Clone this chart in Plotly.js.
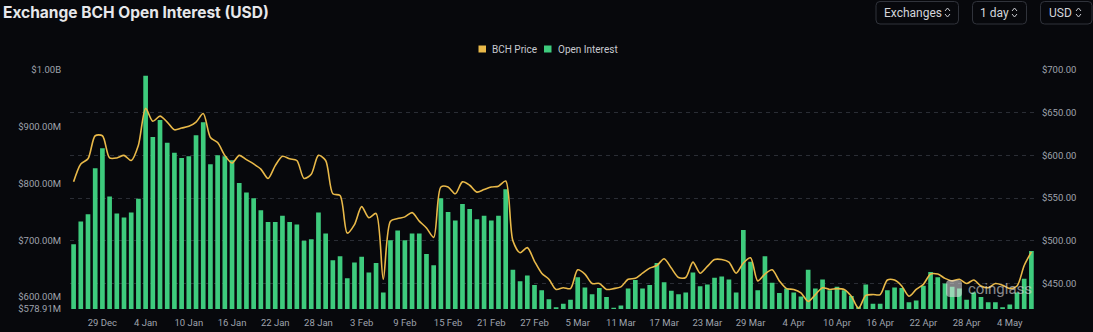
<!DOCTYPE html>
<html>
<head>
<meta charset="utf-8">
<script src="https://cdn.plot.ly/plotly-3.0.1.min.js"></script>
<style>
html,body{margin:0;padding:0;background:#07080c;}
#chart{width:1093px;height:332px;}
</style>
</head>
<body>
<div id="chart"></div>
<script>
// ---- data ----
const dates = [
"2024-12-25","2024-12-26","2024-12-27","2024-12-28","2024-12-29","2024-12-30","2024-12-31",
"2025-01-01","2025-01-02","2025-01-03","2025-01-04","2025-01-05","2025-01-06","2025-01-07","2025-01-08","2025-01-09","2025-01-10",
"2025-01-11","2025-01-12","2025-01-13","2025-01-14","2025-01-15","2025-01-16","2025-01-17","2025-01-18","2025-01-19","2025-01-20",
"2025-01-21","2025-01-22","2025-01-23","2025-01-24","2025-01-25","2025-01-26","2025-01-27","2025-01-28","2025-01-29","2025-01-30","2025-01-31",
"2025-02-01","2025-02-02","2025-02-03","2025-02-04","2025-02-05","2025-02-06","2025-02-07","2025-02-08","2025-02-09","2025-02-10",
"2025-02-11","2025-02-12","2025-02-13","2025-02-14","2025-02-15","2025-02-16","2025-02-17","2025-02-18","2025-02-19","2025-02-20",
"2025-02-21","2025-02-22","2025-02-23","2025-02-24","2025-02-25","2025-02-26","2025-02-27","2025-02-28",
"2025-03-01","2025-03-02","2025-03-03","2025-03-04","2025-03-05","2025-03-06","2025-03-07","2025-03-08","2025-03-09","2025-03-10",
"2025-03-11","2025-03-12","2025-03-13","2025-03-14","2025-03-15","2025-03-16","2025-03-17","2025-03-18","2025-03-19","2025-03-20",
"2025-03-21","2025-03-22","2025-03-23","2025-03-24","2025-03-25","2025-03-26","2025-03-27","2025-03-28","2025-03-29","2025-03-30","2025-03-31",
"2025-04-01","2025-04-02","2025-04-03","2025-04-04","2025-04-05","2025-04-06","2025-04-07","2025-04-08","2025-04-09","2025-04-10",
"2025-04-11","2025-04-12","2025-04-13","2025-04-14","2025-04-15","2025-04-16","2025-04-17","2025-04-18","2025-04-19","2025-04-20",
"2025-04-21","2025-04-22","2025-04-23","2025-04-24","2025-04-25","2025-04-26","2025-04-27","2025-04-28","2025-04-29","2025-04-30",
"2025-05-01","2025-05-02","2025-05-03","2025-05-04","2025-05-05","2025-05-06","2025-05-07"
];

// Open interest, millions USD
const openInterest = [
693,733,746,827,862,777,747,740,749,773,
990,882,912,872,854,845,848,885,908,834,
850,848,841,801,784,774,753,732,732,743,
732,728,699,702,749,712,665,672,633,661,
671,643,660,608,700,717,700,712,712,676,
656,774,750,735,764,755,737,743,735,743,
790,648,628,638,621,612,596,582,588,595,
635,617,605,616,600,581,585,615,630,615,
621,660,626,611,605,608,643,619,622,634,
636,631,608,718,662,612,672,625,607,615,
608,601,648,615,631,612,618,612,602,583,
622,588,588,612,617,616,591,594,620,644,
635,624,618,615,595,608,600,591,591,582,
587,608,632,681
];

// BCH price, USD
const bchPrice = [
569,590,596,623,623,597,597,600,594,612,
655,640,646,639,630,632,634,639,649,621,
615,600,591,600,595,590,584,573,588,599,
596,594,573,578,600,594,555,553,509,519,
540,527,532,455,523,526,528,533,523,515,
504,563,563,555,569,565,557,560,563,564,
570,500,486,492,476,462,455,443,445,444,
466,461,450,450,443,444,446,455,456,462,
468,471,479,468,457,457,475,462,470,478,
478,475,462,474,480,453,461,466,453,444,
443,439,429,437,445,443,444,443,435,421,
436,437,437,454,454,447,435,443,449,461,
461,456,453,455,450,454,447,445,450,448,
444,447,471,487
];

const xTickVals = ["2024-12-29","2025-01-04","2025-01-10","2025-01-16","2025-01-22","2025-01-28","2025-02-03","2025-02-09","2025-02-15","2025-02-21","2025-02-27","2025-03-05","2025-03-11","2025-03-17","2025-03-23","2025-03-29","2025-04-04","2025-04-10","2025-04-16","2025-04-22","2025-04-28","2025-05-04"];
const xTickText = ["29 Dec","4 Jan","10 Jan","16 Jan","22 Jan","28 Jan","3 Feb","9 Feb","15 Feb","21 Feb","27 Feb","5 Mar","11 Mar","17 Mar","23 Mar","29 Mar","4 Apr","10 Apr","16 Apr","22 Apr","28 Apr","4 May"];
const leftTickVals = [578.91,600,700,800,900,1000];
const leftTickText = ["$578.91M","$600.00M","$700.00M","$800.00M","$900.00M","$1.00B"];
const rightTickVals = [450,500,550,600,650,700];
const rightTickText = ["$450.00","$500.00","$550.00","$600.00","$650.00","$700.00"];

// ---- layout helpers (pixel -> paper) ----
const L=70, R=1035, T=70, B=309;
const px = x => (x-L)/(R-L);
const py = y => (B-y)/(B-T);
function rrect(x0,y0,x1,y1,r){
  const p=(x,y)=>px(x)+','+py(y);
  return 'M'+p(x0+r,y0)+' L'+p(x1-r,y0)+' Q'+p(x1,y0)+' '+p(x1,y0+r)+
    ' L'+p(x1,y1-r)+' Q'+p(x1,y1)+' '+p(x1-r,y1)+' L'+p(x0+r,y1)+
    ' Q'+p(x0,y1)+' '+p(x0,y1-r)+' L'+p(x0,y0+r)+' Q'+p(x0,y0)+' '+p(x0+r,y0)+' Z';
}
function chevrons(cx,cy){
  const p=(x,y)=>px(x)+','+py(y);
  return 'M'+p(cx-2.5,cy-1.5)+' L'+p(cx,cy-4.5)+' L'+p(cx+2.5,cy-1.5)+
         ' M'+p(cx-2.5,cy+1.5)+' L'+p(cx,cy+4.5)+' L'+p(cx+2.5,cy+1.5);
}

const GREEN='#3ecb7d', YELLOW='#e9b949', TICK='#9fa3ac';

const traces = [
  {type:'bar', x:dates, y:openInterest, name:'Open Interest', marker:{color:GREEN}, yaxis:'y', showlegend:false, hoverinfo:'skip'},
  {type:'scatter', mode:'lines', x:dates, y:bchPrice, name:'BCH Price', yaxis:'y2',
   line:{color:YELLOW, width:1.6, shape:'spline', smoothing:0.8}, showlegend:false, hoverinfo:'skip'}
];

const shapes = [
  {type:'path', xref:'paper', yref:'paper', path:rrect(876,1.5,958.5,24,4), line:{color:'#30333b',width:1}},
  {type:'path', xref:'paper', yref:'paper', path:rrect(972.5,1.5,1026.5,24,4), line:{color:'#30333b',width:1}},
  {type:'path', xref:'paper', yref:'paper', path:rrect(1040.5,1.5,1092,24,4), line:{color:'#30333b',width:1}},
  {type:'path', xref:'paper', yref:'paper', path:chevrons(947.5,12.5), line:{color:'#c9cbd0',width:1}},
  {type:'path', xref:'paper', yref:'paper', path:chevrons(1014.5,12.5), line:{color:'#c9cbd0',width:1}},
  {type:'path', xref:'paper', yref:'paper', path:chevrons(1078.5,12.5), line:{color:'#c9cbd0',width:1}},
  // legend swatches
  {type:'rect', xref:'paper', yref:'paper', x0:px(478.5), x1:px(486), y0:py(52.5), y1:py(45.5), fillcolor:YELLOW, line:{width:0}},
  {type:'rect', xref:'paper', yref:'paper', x0:px(544), x1:px(551.5), y0:py(52.5), y1:py(45.5), fillcolor:GREEN, line:{width:0}},
  // watermark logo
  {type:'path', xref:'paper', yref:'paper', path:rrect(946,280,962,297,4), fillcolor:'rgba(225,225,228,0.55)', line:{width:0}}
];

const annotations = [
  {xref:'paper', yref:'paper', x:px(490), y:py(49), xanchor:'left', yanchor:'middle', showarrow:false,
   text:'BCH Price', font:{family:'Roboto', size:10, color:'#c8cad0'}},
  {xref:'paper', yref:'paper', x:px(555.5), y:py(49), xanchor:'left', yanchor:'middle', showarrow:false,
   text:'Open Interest', font:{family:'Roboto', size:10, color:'#c8cad0'}},
  {xref:'paper', yref:'paper', x:px(881.5), y:py(12.8), xanchor:'left', yanchor:'middle', showarrow:false,
   text:'Exchanges', font:{family:'Roboto', size:12, color:'#d3d5da'}},
  {xref:'paper', yref:'paper', x:px(978), y:py(12.8), xanchor:'left', yanchor:'middle', showarrow:false,
   text:'1 day', font:{family:'Roboto', size:12, color:'#d3d5da'}},
  {xref:'paper', yref:'paper', x:px(1046.5), y:py(12.8), xanchor:'left', yanchor:'middle', showarrow:false,
   text:'USD', font:{family:'Roboto', size:12, color:'#d3d5da'}},
  {xref:'paper', yref:'paper', x:px(966), y:py(289), xanchor:'left', yanchor:'middle', showarrow:false,
   text:'coinglass', font:{family:'Roboto', size:15, color:'rgba(225,225,228,0.6)'}}
];

const layout = {
  width:1093, height:332,
  paper_bgcolor:'#07080c', plot_bgcolor:'#07080c',
  margin:{l:L, r:1093-R, t:T, b:332-B, pad:0},
  title:{text:'<b>Exchange BCH Open Interest (USD)</b>', x:3/1093, xref:'container', xanchor:'left',
         y:1-12.5/332, yref:'container', yanchor:'middle',
         font:{family:'Inter, Roboto, sans-serif', size:15.5, color:'#e6e7ea'}},
  bargap:0.35,
  showlegend:false,
  xaxis:{type:'date', range:['2024-12-24 12:00','2025-05-07 12:00'], tickvals:xTickVals, ticktext:xTickText,
         showgrid:false, zeroline:false, showline:false, ticks:'outside', ticklen:5, tickcolor:'rgba(0,0,0,0)',
         tickfont:{family:'Roboto', size:9.5, color:TICK}, fixedrange:true},
  yaxis:{range:[578.91,1000], tickvals:leftTickVals, ticktext:leftTickText, showgrid:false, zeroline:false,
         showline:false, ticks:'outside', ticklen:6, tickcolor:'rgba(0,0,0,0)',
         tickfont:{family:'Roboto', size:9.5, color:TICK}},
  yaxis2:{range:[420.1,700], overlaying:'y', side:'right', tickvals:rightTickVals, ticktext:rightTickText,
          showgrid:true, gridcolor:'#2a2d35', griddash:'4px,4px', gridwidth:1, zeroline:false, showline:false,
          ticks:'outside', ticklen:4, tickcolor:'rgba(0,0,0,0)',
          tickfont:{family:'Roboto', size:9.5, color:TICK}},
  shapes:shapes,
  annotations:annotations
};

Plotly.newPlot('chart', traces, layout, {staticPlot:true, displayModeBar:false});
</script>
</body>
</html>
